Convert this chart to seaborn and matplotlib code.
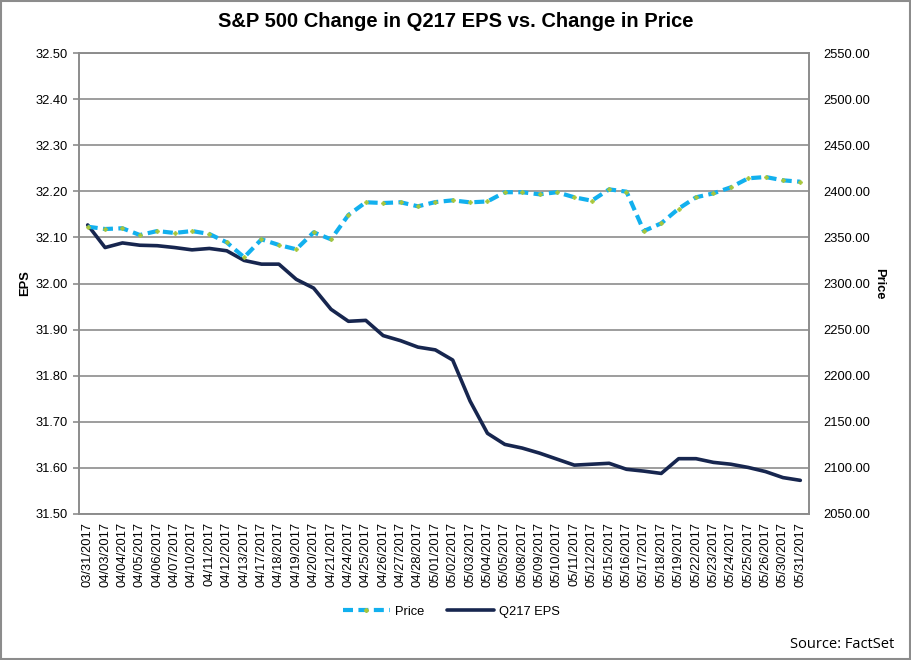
import matplotlib
matplotlib.use("Agg")
import matplotlib.pyplot as plt
import numpy as np
import pandas as pd
import seaborn as sns
from matplotlib.lines import Line2D
from matplotlib.patches import Rectangle

# ─── Data ──────────────────────────────────────────────────────────────────────

dates = [
    "03/31/2017", "04/03/2017", "04/04/2017", "04/05/2017", "04/06/2017",
    "04/07/2017", "04/10/2017", "04/11/2017", "04/12/2017", "04/13/2017",
    "04/17/2017", "04/18/2017", "04/19/2017", "04/20/2017", "04/21/2017",
    "04/24/2017", "04/25/2017", "04/26/2017", "04/27/2017", "04/28/2017",
    "05/01/2017", "05/02/2017", "05/03/2017", "05/04/2017", "05/05/2017",
    "05/08/2017", "05/09/2017", "05/10/2017", "05/11/2017", "05/12/2017",
    "05/15/2017", "05/16/2017", "05/17/2017", "05/18/2017", "05/19/2017",
    "05/22/2017", "05/23/2017", "05/24/2017", "05/25/2017", "05/26/2017",
    "05/30/2017", "05/31/2017",
]

eps = [
    32.127, 32.078, 32.088, 32.083, 32.082, 32.078, 32.073, 32.076, 32.071, 32.050,
    32.042, 32.042, 32.009, 31.990, 31.944, 31.918, 31.920, 31.887, 31.876, 31.862,
    31.856, 31.834, 31.745, 31.675, 31.651, 31.643, 31.632, 31.619, 31.606, 31.608,
    31.610, 31.597, 31.593, 31.588, 31.620, 31.620, 31.612, 31.608, 31.601, 31.592,
    31.579, 31.573,
]

price = [
    2361.6, 2359.1, 2359.9, 2352.6, 2356.9, 2354.8, 2356.9, 2353.7, 2344.6, 2328.4,
    2347.9, 2341.8, 2337.1, 2355.5, 2347.9, 2374.3, 2388.1, 2387.3, 2388.1, 2383.7,
    2388.3, 2390.2, 2388.0, 2389.0, 2399.0, 2399.0, 2396.7, 2399.0, 2393.5, 2389.8,
    2402.1, 2399.6, 2356.9, 2365.3, 2381.2, 2393.5, 2397.8, 2404.3, 2414.1, 2415.5,
    2411.9, 2410.4,
]

eps_ticks = [31.50, 31.60, 31.70, 31.80, 31.90, 32.00, 32.10, 32.20, 32.30, 32.40, 32.50]
price_ticks = [2050, 2100, 2150, 2200, 2250, 2300, 2350, 2400, 2450, 2500, 2550]

# ─── Plot ──────────────────────────────────────────────────────────────────────

sns.set_theme(style="white")
plt.rcParams["font.family"] = ["Liberation Sans", "DejaVu Sans"]
plt.rcParams.update({
    "text.color": "black",
    "axes.labelcolor": "black",
    "xtick.color": "black",
    "ytick.color": "black",
})

df = pd.DataFrame({"pos": np.arange(len(dates)), "date": dates, "eps": eps, "price": price})

PRICE_C = "#12B0EE"
EPS_C = "#17264F"
MARK_C = "#A8C63A"
GRID_C = "#8C8C8C"
DASH = (0, (2.4, 1.3))

fig = plt.figure(figsize=(9.12, 6.6), dpi=100)
ax = fig.add_axes([79 / 912, 1 - 514 / 660, 730 / 912, 461 / 660])
ax2 = ax.twinx()

sns.lineplot(data=df, x="pos", y="eps", color=EPS_C, linewidth=2.6, ax=ax, legend=False)
sns.lineplot(data=df, x="pos", y="price", color=PRICE_C, linewidth=3,
             linestyle=DASH, marker="P", markersize=2.6,
             markerfacecolor=MARK_C, markeredgecolor=MARK_C, ax=ax2, legend=False)

ax.set_xlim(-0.5, len(dates) - 0.5)
ax.set_ylim(31.50, 32.50)
ax2.set_ylim(2050, 2550)
ax.set_yticks(eps_ticks)
ax.set_yticklabels([f"{v:.2f}" for v in eps_ticks], fontsize=9.3)
ax2.set_yticks(price_ticks)
ax2.set_yticklabels([f"{v:.2f}" for v in price_ticks], fontsize=9.3)
ax.set_xticks(df["pos"])
ax.set_xticklabels(dates, rotation=90, fontsize=9.3)

ax.yaxis.grid(True, color=GRID_C, linewidth=1.2)
ax.set_axisbelow(True)
for a in (ax, ax2):
    for s in a.spines.values():
        s.set_color(GRID_C)
        s.set_linewidth(1.2)

ax.tick_params(axis="y", length=4, width=1.2, color=GRID_C, labelcolor="black", pad=4)
ax.tick_params(axis="x", length=0, pad=6)
ax2.tick_params(axis="y", length=0, pad=10)

ax.set_xlabel("")
ax.set_ylabel("EPS", fontsize=9.3, fontweight="bold", labelpad=3)
ax2.set_ylabel("Price", fontsize=9.3, fontweight="bold", rotation=270, labelpad=11)

fig.suptitle("S&P 500 Change in Q217 EPS vs. Change in Price",
             fontsize=14.5, fontweight="bold", y=0.982)

handles = [
    Line2D([], [], color=PRICE_C, linewidth=3, linestyle=DASH,
           marker="P", markersize=2.6, markerfacecolor=MARK_C, markeredgecolor=MARK_C,
           markevery=[1]),
    Line2D([], [], color=EPS_C, linewidth=2.6),
]
fig.legend(handles, ["Price", "Q217 EPS"], loc="center", bbox_to_anchor=(0.495, 0.073),
           ncol=2, frameon=False, fontsize=9.3, handlelength=3.6, columnspacing=1.8,
           handletextpad=0.4)

fig.text(0.98, 0.012, "Source: FactSet", ha="right", va="bottom", fontsize=10.5,
         family=["Open Sans", "DejaVu Sans"])

fig.patches.append(Rectangle((0.001, 0.001), 0.997, 0.997, transform=fig.transFigure,
                             fill=False, edgecolor="#8C8C8C", linewidth=1.5))

fig.savefig("out.png", dpi=100)
plt.close(fig)
